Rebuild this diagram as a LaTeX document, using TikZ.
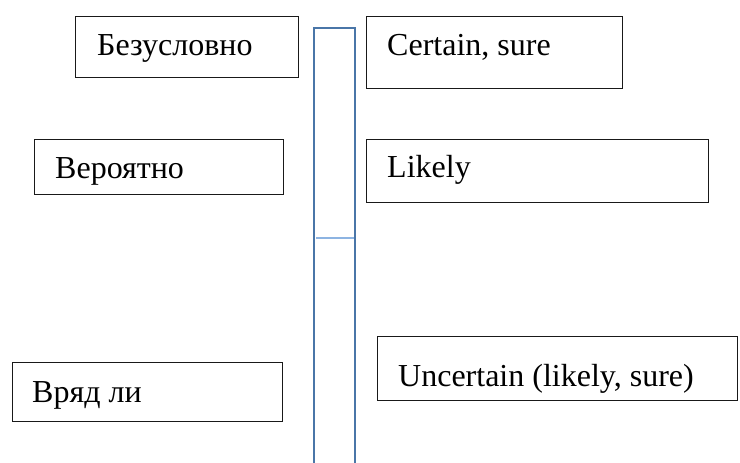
\documentclass[tikz,border=0pt]{standalone}
\usepackage{fontspec}
\setmainfont{Liberation Serif}
\definecolor{barblue}{HTML}{4A76A8}
\definecolor{midblue}{HTML}{8DB4E2}
\begin{document}
\begin{tikzpicture}[x=1pt,y=-1pt,
  box/.style={draw=black!90,line width=1.2pt,inner sep=0pt,anchor=north west},
  lbl/.style={anchor=base west,inner sep=0pt,font=\fontsize{32}{37}\selectfont}]
\useasboundingbox (0,0) rectangle (740,463);
\fill[white] (0,0) rectangle (740,463);
% left boxes
\node[box,minimum width=223pt,minimum height=61pt] (b1) at (75,16) {};
\node[box,minimum width=249pt,minimum height=55pt] (b2) at (34,139) {};
\node[box,minimum width=270pt,minimum height=59pt] (b3) at (12,362) {};
% right boxes
\node[box,minimum width=256pt,minimum height=72pt] (r1) at (366,16) {};
\node[box,minimum width=342pt,minimum height=63pt] (r2) at (366,139) {};
\node[box,minimum width=360pt,minimum height=64pt] (r3) at (377,336) {};
% labels
\node[lbl] (t1) at (97,55) {Безусловно};
\node[lbl] (t2) at (55,178) {Вероятно};
\node[lbl] (t3) at (32,402) {Вряд ли};
\node[lbl] (u1) at (387,55) {Certain, sure};
\node[lbl] (u2) at (387,177) {Likely};
\node[lbl] (u3) at (398,386) {Uncertain (likely, sure)};
% scale bar
\coordinate (bl) at (314,470);
\coordinate (tl) at (314,28);
\coordinate (tr) at (355,28);
\coordinate (br) at (355,470);
\coordinate (ml) at (316,238);
\coordinate (mr) at (354,238);
\draw[barblue,line width=2.2pt] (bl) -- (tl) -- (tr) -- (br);
\draw[midblue,line width=1.3pt] (ml) -- (mr);
\end{tikzpicture}
\end{document}
